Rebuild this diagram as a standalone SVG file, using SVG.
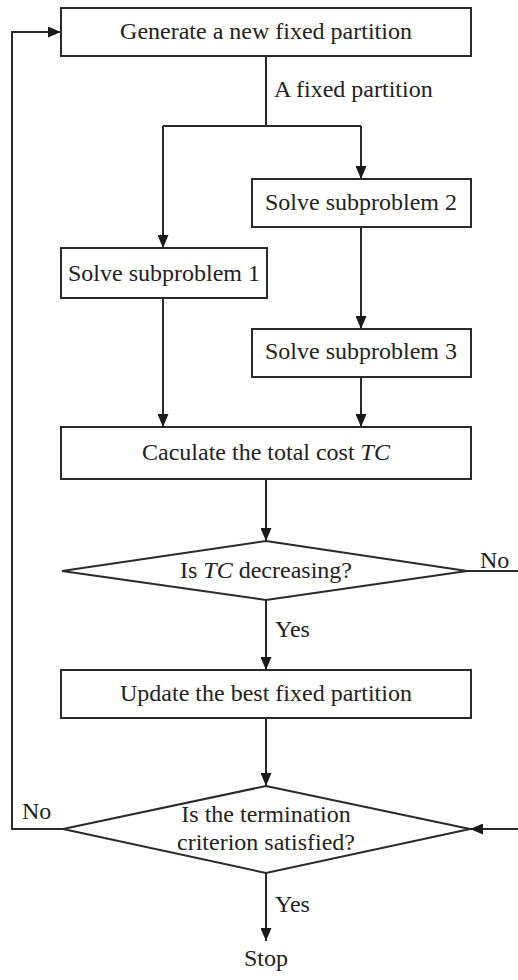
<svg xmlns="http://www.w3.org/2000/svg" width="518" height="980" viewBox="0 0 518 980">
<defs>
<marker id="arr" viewBox="0 0 13 11" refX="13" refY="5.5" markerWidth="13" markerHeight="11" markerUnits="userSpaceOnUse" orient="auto">
<path d="M0,0 L13,5.5 L0,11 z" fill="#1a1a1a"/>
</marker>
<style>
.box{fill:#fff;stroke:#2a2a2a;stroke-width:2}
.t{font-family:"Liberation Serif","Times New Roman",serif;font-size:24px;fill:#222;text-anchor:middle}
.l{font-family:"Liberation Serif","Times New Roman",serif;font-size:24px;fill:#222}
.c{fill:none;stroke:#2a2a2a;stroke-width:2}
.a{marker-end:url(#arr)}
</style>
</defs>
<rect width="518" height="980" fill="#fff"/>
<g id="connectors">
<path class="c" d="M266,56 V126"/>
<path class="c" d="M163,126 H361"/>
<path class="c a" d="M163,126 V248"/>
<path class="c a" d="M361,126 V179"/>
<path class="c a" d="M361,227 V329"/>
<path class="c a" d="M163,298 V427"/>
<path class="c a" d="M361,377 V427"/>
<path class="c a" d="M266,479 V541"/>
<path class="c a" d="M266,600 V670"/>
<path class="c" d="M467,571 H518"/>
<path class="c a" d="M266,718 V786"/>
<path class="c a" d="M518,829 H470"/>
<path class="c a" d="M63,829 H12 V32 H61"/>
<path class="c a" d="M266,873 V941"/>
<text class="l" x="274" y="97">A fixed partition</text>
<text class="l" x="480" y="568">No</text>
<text class="l" x="275" y="637">Yes</text>
<text class="l" x="22" y="819">No</text>
<text class="l" x="275" y="912">Yes</text>
</g>
<g id="generate">
<rect class="box" x="61" y="8" width="410" height="48"/>
<text class="t" x="266" y="39">Generate a new fixed partition</text>
</g>
<g id="sub2">
<rect class="box" x="252" y="179" width="219" height="48"/>
<text class="t" x="361" y="210">Solve subproblem 2</text>
</g>
<g id="sub1">
<rect class="box" x="61" y="248" width="206" height="50"/>
<text class="t" x="164" y="281">Solve subproblem 1</text>
</g>
<g id="sub3">
<rect class="box" x="252" y="329" width="219" height="48"/>
<text class="t" x="361" y="359">Solve subproblem 3</text>
</g>
<g id="calc">
<rect class="box" x="61" y="427" width="410" height="52"/>
<text class="t" x="266" y="460">Caculate the total cost <tspan font-style="italic">TC</tspan></text>
</g>
<g id="decreasing">
<polygon class="box" points="266,541 467,571 266,600 62,571"/>
<text class="t" x="266" y="578">Is <tspan font-style="italic">TC</tspan> decreasing?</text>
</g>
<g id="update">
<rect class="box" x="61" y="670" width="410" height="48"/>
<text class="t" x="266" y="701">Update the best fixed partition</text>
</g>
<g id="termination">
<polygon class="box" points="266,786 470,829 266,873 63,829"/>
<text class="t" x="266" y="822">Is the termination</text>
<text class="t" x="266" y="850">criterion satisfied?</text>
</g>
<g id="stop">
<text class="t" x="266" y="966">Stop</text>
</g>
</svg>
